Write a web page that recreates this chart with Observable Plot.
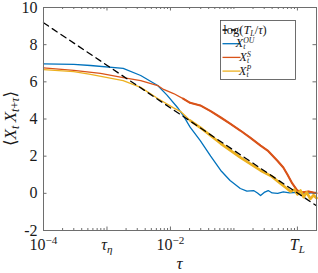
<!DOCTYPE html>
<html><head><meta charset="utf-8">
<script src="https://cdn.jsdelivr.net/npm/d3@7"></script>
<script src="https://cdn.jsdelivr.net/npm/@observablehq/plot@0.6"></script>
<style>
html,body{margin:0;padding:0;background:#fff;}
#chart svg{display:block;}
</style></head><body><div id="chart"></div>
<script>
// ---------- data ----------
const xTicks = [1e-4, 1e-3, 1e-2, 1];
const xTickLabels = ["10^{−4}", "τ_η", "10^{−2}", "T_L"];
const yTicks = [-2, 0, 2, 4, 6, 8, 10];
const xLabel = "τ";
const yLabel = "⟨X_t\u2009X_{t+τ}⟩";
const seriesNames = ["log(T_L/τ)", "X_t^{OU}", "X_t^{S}", "X_t^{P}"];
const seriesColors = ["#000000", "#0072BD", "#D95319", "#EDB120"];

const tauRef = [1e-4, 2];
const valRef = [9.18, -0.67];

const tauOU = [1e-4, 3e-4, 5.5e-4, 1.8e-3, 3.4e-3, 6.3e-3, 8.9e-3, 1.29e-2, 1.58e-2, 2.04e-2, 2.95e-2, 4.3e-2, 6.2e-2, 8.7e-2, 0.126, 0.16, 0.204, 0.235, 0.263, 0.30, 0.347, 0.40, 0.49, 0.6, 0.75, 1.0, 1.4, 2.0];
const valOU = [6.97, 6.94, 6.88, 6.72, 6.34, 5.80, 5.27, 4.62, 4.20, 3.56, 2.84, 2.00, 1.23, 0.69, 0.26, 0.12, 0.15, 0.02, -0.12, 0.05, 0.15, 0.02, 0.0, 0.08, 0.03, 0.05, 0.0, 0.05];

const tauS = [1e-4, 3e-4, 7.9e-4, 1.8e-3, 3.4e-3, 6.3e-3, 7.8e-3, 1.12e-2, 1.58e-2, 2.04e-2, 2.95e-2, 4.3e-2, 6.2e-2, 8.7e-2, 0.126, 0.18, 0.263, 0.34, 0.48, 0.60, 0.70, 0.83, 1.0, 1.2, 1.5, 2.0];
const valS = [6.75, 6.62, 6.45, 6.23, 6.07, 5.80, 5.59, 5.37, 5.10, 4.87, 4.73, 4.42, 4.08, 3.75, 3.38, 3.00, 2.57, 2.30, 1.77, 1.39, 1.00, 0.53, 0.15, 0.05, 0.10, 0.0];

const tauP = [1e-4, 3e-4, 5.5e-4, 1.8e-3, 3.4e-3, 6.3e-3, 1.12e-2, 1.45e-2, 2.04e-2, 2.95e-2, 6.2e-2, 0.126, 0.263, 0.40, 0.54, 0.66, 0.78, 0.9, 1.0, 1.12, 1.25, 1.4, 1.6, 1.8, 2.0];
const valP = [6.66, 6.55, 6.40, 6.07, 5.70, 5.10, 4.60, 4.40, 3.92, 3.54, 2.68, 1.93, 1.23, 0.90, 0.53, 0.30, 0.10, 0.20, -0.05, 0.15, -0.20, 0.05, -0.30, -0.10, -0.25];

// ---------- style ----------
const noisyFromS = 0.012, noisyFromP = 0.02;
const W = 318, H = 273, mL = 43, mR = 2, mT = 7, mB = 43;
const pw = W - mL - mR, ph = H - mT - mB;
const axisColor = "#6e6e6e";
const textColor = "#1a1a1a";
const FONT = '"Liberation Serif","DejaVu Serif",serif';
const FS = 16;

const rows = (t, v) => t.map((d, i) => ({tau: d, v: v[i]}));
const ref = rows(tauRef, valRef), ou = rows(tauOU, valOU), s = rows(tauS, valS), p = rows(tauP, valP);

const xMinor = [];
for (let k = -4; k <= 0; k++) for (let m = 1; m <= 9; m++) {
  const v = m * Math.pow(10, k);
  if (v < 2 && !xTicks.some(t => Math.abs(t - v) / v < 1e-6)) xMinor.push(v);
}

const chart = Plot.plot({
  width: W, height: H, marginLeft: mL, marginRight: mR, marginTop: mT, marginBottom: mB,
  x: {type: "log", domain: [1e-4, 2]},
  y: {domain: [-2, 10]},
  style: {fontFamily: FONT, fontSize: FS + "px", color: textColor, background: "white"},
  marks: [
    Plot.line(ou, {x: "tau", y: "v", stroke: seriesColors[1], strokeWidth: 1.3}),
    Plot.line(s, {x: "tau", y: "v", stroke: seriesColors[2], strokeWidth: 1.3}),
    Plot.line(s.filter(d => d.tau >= noisyFromS), {x: "tau", y: "v", stroke: seriesColors[2], strokeWidth: 2.1}),
    Plot.line(p, {x: "tau", y: "v", stroke: seriesColors[3], strokeWidth: 1.3}),
    Plot.line(p.filter(d => d.tau >= noisyFromP), {x: "tau", y: "v", stroke: seriesColors[3], strokeWidth: 2.7}),
    Plot.line(ref, {x: "tau", y: "v", stroke: seriesColors[0], strokeWidth: 1.3, strokeDasharray: "6,4.5"}),
    Plot.frame({stroke: axisColor, strokeWidth: 1}),
    Plot.tickX(xMinor, {x: d => d, insetTop: ph - 2, stroke: axisColor}),
    Plot.tickX(xMinor, {x: d => d, insetBottom: ph - 2, stroke: axisColor}),
    Plot.tickX(xTicks, {x: d => d, insetTop: ph - 3.5, stroke: axisColor}),
    Plot.tickX(xTicks, {x: d => d, insetBottom: ph - 3.5, stroke: axisColor}),
    Plot.tickY(yTicks, {y: d => d, insetRight: pw - 3.5, stroke: axisColor}),
    Plot.tickY(yTicks, {y: d => d, insetLeft: pw - 3.5, stroke: axisColor}),
    Plot.axisX({ticks: xTicks, tickFormat: d => xTickLabels[xTicks.indexOf(d)], tickSize: 0, tickPadding: 8, label: null}),
    Plot.axisY({ticks: yTicks, tickFormat: d => String(d), tickSize: 0, tickPadding: 6, label: null})
  ]
});
document.getElementById("chart").appendChild(chart);

// ---------- math-ish text rendering ----------
const NS = "http://www.w3.org/2000/svg";
function parseMath(str) {
  const segs = []; let i = 0;
  while (i < str.length) {
    const c = str[i];
    if (c === "^" || c === "_") {
      const mode = c === "^" ? "sup" : "sub"; let body;
      if (str[i + 1] === "{") { const j = str.indexOf("}", i + 2); body = str.slice(i + 2, j); i = j + 1; }
      else { body = str[i + 1]; i += 2; }
      segs.push({t: body, mode});
    } else {
      let j = i; while (j < str.length && str[j] !== "^" && str[j] !== "_") j++;
      segs.push({t: str.slice(i, j), mode: "base"}); i = j;
    }
  }
  return segs;
}
function renderMath(el, str, fs, opt = {}) {
  const ratio = opt.ratio || 0.7, supOff = opt.sup || 0.4, subOff = opt.sub || 0.22;
  while (el.firstChild) el.removeChild(el.firstChild);
  const segs = parseMath(str);
  let cur = 0, lastSubLen = 0;
  segs.forEach((seg, si) => {
    const size = seg.mode === "base" ? fs : fs * ratio;
    const off = seg.mode === "sup" ? -supOff * fs : seg.mode === "sub" ? subOff * fs : 0;
    const toks = seg.t.match(/log|[A-Za-z\u0370-\u03FF]|[^A-Za-z\u0370-\u03FF]+/g) || [];
    const spans = [];
    toks.forEach((tok, ti) => {
      const ts = document.createElementNS(NS, "tspan");
      ts.textContent = tok;
      ts.setAttribute("font-size", size);
      if (/^[A-Za-z\u0370-\u03FF]$/.test(tok)) ts.setAttribute("font-style", "italic");
      if (ti === 0) {
        const d = off - cur; if (d) ts.setAttribute("dy", d); cur = off;
        if (seg.mode === "sup" && si > 0 && segs[si - 1].mode === "sub") ts.setAttribute("dx", -lastSubLen);
      }
      el.appendChild(ts); spans.push(ts);
    });
    if (seg.mode === "sub") lastSubLen = spans.reduce((a, t) => a + t.getComputedTextLength(), 0);
  });
}

const svg = d3.select(chart);
svg.selectAll('g[aria-label="x-axis tick label"] text').each(function () {
  renderMath(this, this.textContent, FS, {sup: 0.38});
});

// axis labels
const xl = svg.append("text").attr("x", mL + pw / 2).attr("y", 268.5)
  .attr("text-anchor", "middle").attr("fill", textColor).attr("font-family", FONT);
renderMath(xl.node(), xLabel, 17);
const yl = svg.append("text").attr("transform", `translate(16,${mT + ph / 2}) rotate(-90)`)
  .attr("text-anchor", "middle").attr("fill", textColor).attr("font-family", FONT);
renderMath(yl.node(), yLabel, 17, {sub: 0.2});

// legend
const lg = svg.append("g").attr("transform", "translate(220.5,20.5)");
lg.append("rect").attr("width", 75).attr("height", 59).attr("fill", "white").attr("stroke", "#4a4a4a").attr("stroke-width", 0.8);
seriesNames.forEach((name, i) => {
  const cy = 9.5 + i * 13.7;
  lg.append("line").attr("x1", 2).attr("x2", 20).attr("y1", cy).attr("y2", cy)
    .attr("stroke", seriesColors[i]).attr("stroke-width", 1.3)
    .attr("stroke-dasharray", i === 0 ? "5,3.5" : null);
  const t = lg.append("text").attr("x", 24.5).attr("y", cy + 3.5).attr("fill", textColor).attr("font-family", FONT);
  renderMath(t.node(), name, 12.5, {ratio: 0.62, sup: 0.3, sub: 0.18});
});
</script></body></html>
